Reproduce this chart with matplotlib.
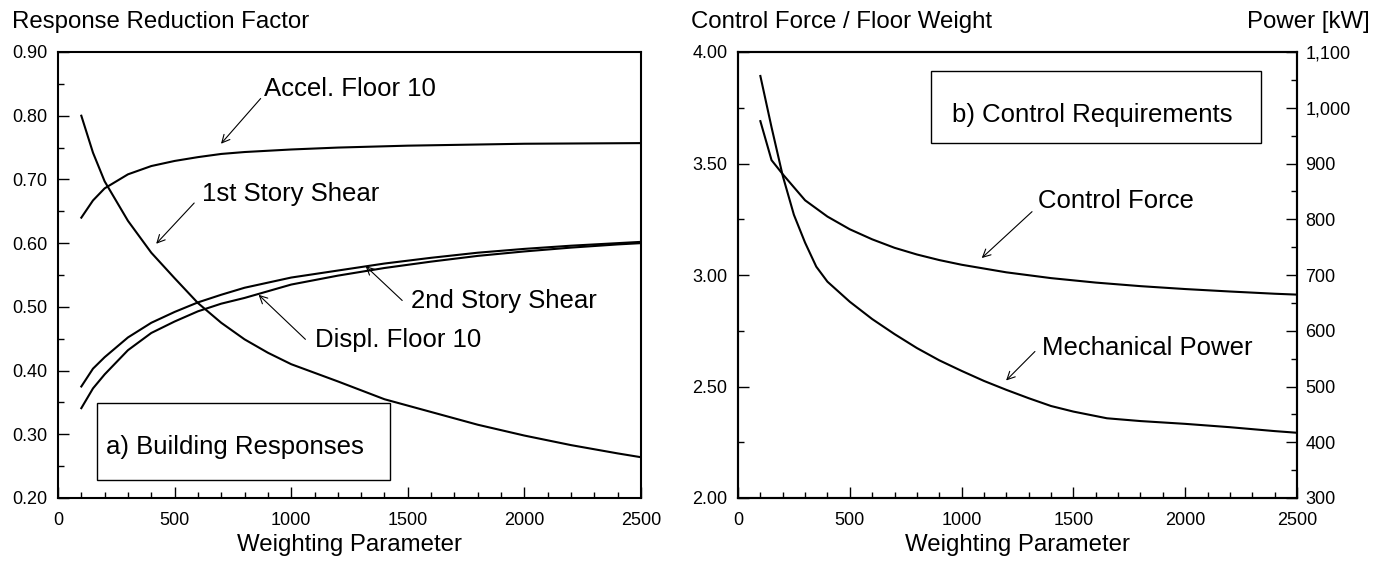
import matplotlib
matplotlib.use('Agg')
import matplotlib.pyplot as plt
from matplotlib.patches import Rectangle
from matplotlib.ticker import MultipleLocator, FuncFormatter

plt.rcParams['font.family'] = ['Liberation Sans', 'DejaVu Sans']

# a) building responses vs. weighting parameter
w_resp = [100, 150, 200, 300, 400, 500, 600, 700, 800, 900, 1000,
          1200, 1400, 1600, 1800, 2000, 2200, 2400, 2500]
shear_1st = [0.800, 0.742, 0.697, 0.635, 0.585, 0.545, 0.506, 0.475, 0.449,
             0.428, 0.410, 0.383, 0.355, 0.335, 0.315, 0.298, 0.283, 0.270, 0.264]

w_accel = [100, 150, 200, 300, 400, 500, 600, 700, 800, 1000, 1200, 1500, 2000, 2500]
accel_10 = [0.640, 0.667, 0.686, 0.708, 0.721, 0.729, 0.735, 0.740, 0.743,
            0.747, 0.750, 0.753, 0.756, 0.757]

w_disp = [100, 150, 200, 300, 400, 500, 600, 700, 800, 1000, 1200,
          1400, 1600, 1800, 2000, 2200, 2400, 2500]
shear_2nd = [0.375, 0.403, 0.421, 0.452, 0.475, 0.492, 0.507, 0.519, 0.530,
             0.546, 0.557, 0.568, 0.577, 0.585, 0.591, 0.596, 0.600, 0.602]
displ_10 = [0.341, 0.372, 0.394, 0.432, 0.459, 0.477, 0.493, 0.505, 0.514,
            0.535, 0.549, 0.561, 0.571, 0.580, 0.587, 0.593, 0.598, 0.600]

# b) control requirements
w_force = [100, 150, 200, 300, 400, 500, 600, 700, 800, 900, 1000,
           1200, 1400, 1600, 1800, 2000, 2200, 2400, 2500]
force_ratio = [3.690, 3.515, 3.452, 3.335, 3.262, 3.205, 3.160, 3.122, 3.092,
               3.067, 3.046, 3.012, 2.986, 2.966, 2.950, 2.937, 2.926, 2.916, 2.912]

w_power = [100, 150, 200, 250, 300, 350, 400, 500, 600, 700, 800, 900, 1000,
           1100, 1200, 1300, 1400, 1500, 1650, 1800, 2000, 2200, 2400, 2500]
power_kw = [1057, 965, 878, 808, 758, 715, 688, 652, 621, 594, 569, 547, 528,
            510, 494, 479, 465, 455, 443, 438, 433, 427, 420, 417]

TICK_FS = 13
LABEL_FS = 17.3
NOTE_FS = 18.5
LW = 1.5

fig = plt.figure(figsize=(13.74, 5.64), dpi=100)
ax_a = fig.add_axes([58 / 1374, 66 / 564, 583 / 1374, 446 / 564])
ax_b = fig.add_axes([738 / 1374, 66 / 564, 559 / 1374, 446 / 564])
ax_p = ax_b.twinx()


def style_axis(ax):
    for sp in ax.spines.values():
        sp.set_linewidth(1.5)
    ax.set_xlim(0, 2500)
    ax.xaxis.set_major_locator(MultipleLocator(500))
    ax.xaxis.set_minor_locator(MultipleLocator(100))
    ax.tick_params(which='both', direction='in', top=False, right=False,
                   labelsize=TICK_FS, width=1.0)
    ax.tick_params(which='major', length=8)
    ax.tick_params(which='minor', length=4.5)
    ax.tick_params(axis='x', pad=10)
    ax.tick_params(axis='y', pad=7.5)
    ax.set_xlabel('Weighting Parameter', fontsize=LABEL_FS, labelpad=4)


def arrow(ax, start, tip):
    ax.annotate('', xy=tip, xytext=start,
                arrowprops=dict(arrowstyle='->', lw=0.8, color='k',
                                shrinkA=0, shrinkB=0, mutation_scale=14))


# ---- panel a ----
style_axis(ax_a)
ax_a.set_ylim(0.20, 0.90)
ax_a.yaxis.set_major_locator(MultipleLocator(0.1))
ax_a.yaxis.set_minor_locator(MultipleLocator(0.05))
ax_a.yaxis.set_major_formatter(FuncFormatter(lambda v, p: f'{v:.2f}'))

ax_a.plot(w_resp, shear_1st, color='k', lw=LW)
ax_a.plot(w_accel, accel_10, color='k', lw=LW)
ax_a.plot(w_disp, shear_2nd, color='k', lw=LW)
ax_a.plot(w_disp, displ_10, color='k', lw=LW)

ax_a.text(883, 0.831, 'Accel. Floor 10', fontsize=NOTE_FS, va='baseline')
arrow(ax_a, (869, 0.827), (699, 0.756))
ax_a.text(617, 0.666, '1st Story Shear', fontsize=NOTE_FS, va='baseline')
arrow(ax_a, (584, 0.663), (421, 0.599))
ax_a.text(1101, 0.437, 'Displ. Floor 10', fontsize=NOTE_FS, va='baseline')
arrow(ax_a, (1061, 0.449), (860, 0.519))
ax_a.text(1512, 0.498, '2nd Story Shear', fontsize=NOTE_FS, va='baseline')
arrow(ax_a, (1476, 0.510), (1319, 0.564))

ax_a.add_patch(Rectangle((166, 0.228), 1257, 0.121, fill=False, lw=1.0, ec='k'))
ax_a.text(206, 0.269, 'a) Building Responses', fontsize=NOTE_FS, va='baseline')

# ---- panel b ----
style_axis(ax_b)
ax_b.set_ylim(2.0, 4.0)
ax_b.yaxis.set_major_locator(MultipleLocator(0.5))
ax_b.yaxis.set_minor_locator(MultipleLocator(0.25))
ax_b.yaxis.set_major_formatter(FuncFormatter(lambda v, p: f'{v:.2f}'))

ax_p.set_ylim(300, 1100)
ax_p.yaxis.set_major_locator(MultipleLocator(100))
ax_p.yaxis.set_minor_locator(MultipleLocator(50))
ax_p.yaxis.set_major_formatter(FuncFormatter(lambda v, p: f'{int(v):,}'))
ax_p.tick_params(which='both', direction='in', labelsize=TICK_FS, width=1.0, pad=6)
ax_p.tick_params(which='major', length=8)
ax_p.tick_params(which='minor', length=4.5)
for sp in ax_p.spines.values():
    sp.set_linewidth(1.5)

ax_b.plot(w_force, force_ratio, color='k', lw=LW)
ax_p.plot(w_power, power_kw, color='k', lw=LW)

ax_b.add_patch(Rectangle((863, 3.59), 1475, 0.325, fill=False, lw=1.0, ec='k'))
ax_b.text(956, 3.686, 'b) Control Requirements', fontsize=NOTE_FS, va='baseline')
ax_b.text(1343, 3.301, 'Control Force', fontsize=NOTE_FS, va='baseline')
arrow(ax_b, (1315, 3.284), (1090, 3.076))
ax_b.text(1358, 2.642, 'Mechanical Power', fontsize=NOTE_FS, va='baseline')
arrow(ax_b, (1328, 2.657), (1199, 2.527))

# axis titles above the frames
fig.text(12 / 1374, 536 / 564, 'Response Reduction Factor', fontsize=LABEL_FS, va='baseline')
fig.text(691 / 1374, 536 / 564, 'Control Force / Floor Weight', fontsize=LABEL_FS, va='baseline')
fig.text(1370 / 1374, 536 / 564, 'Power [kW]', fontsize=LABEL_FS, va='baseline', ha='right')

fig.savefig('out.png', dpi=100)
